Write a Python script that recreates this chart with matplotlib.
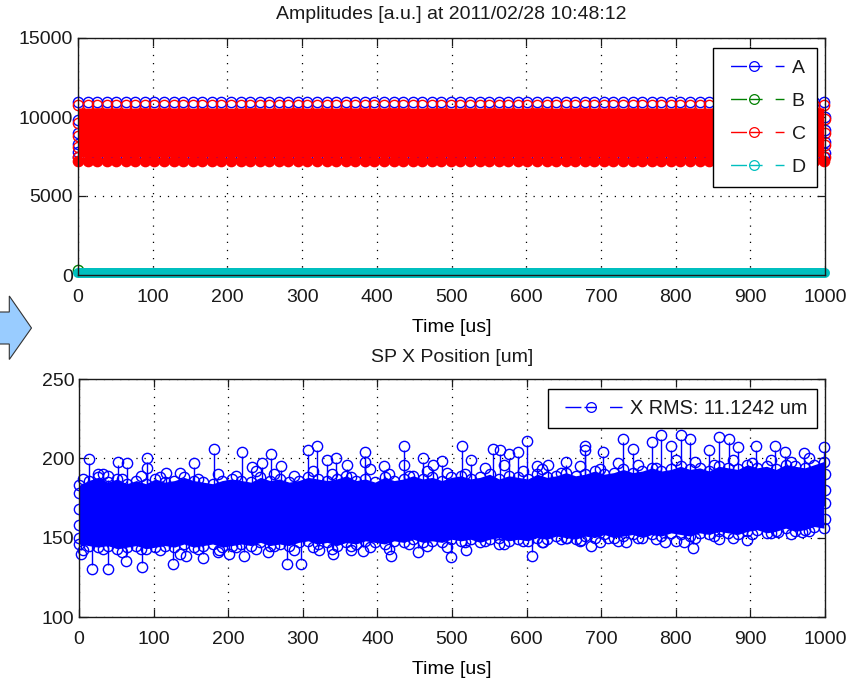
#!/usr/bin/env python3
"""Amplitudes and SP X position against time, two stacked panels."""
import matplotlib
matplotlib.use("Agg")
import matplotlib.pyplot as plt
from matplotlib.lines import Line2D
from matplotlib.patches import Polygon
import numpy as np

# ── Data ──
# samples are grouped per bunch, one bunch every 12.8 us
bunch_time = np.arange(79) * 12.8

a_high = [10960, 10940, 10970, 10950, 10960, 10940, 10950, 10970, 10940, 10960, 10950, 10960, 10940, 10970, 10950, 10960,
          10940, 10950, 10970, 10960, 10940, 10950, 10960, 10970, 10940, 10950, 10960, 10940, 10970, 10950, 10960, 10940,
          10950, 10970, 10960, 10940, 10950, 10960, 10970, 10940, 10950, 10960, 10940, 10970, 10950, 10960, 10940, 10950,
          10970, 10960, 10940, 10950, 10960, 10970, 10940, 10950, 10960, 10940, 10970, 10950, 10960, 10940, 10950, 10970,
          10960, 10940, 10950, 10960, 10970, 10940, 10950, 10960, 10940, 10970, 10950, 10960, 10940, 10950, 10960]
a_low = [7480, 7500, 7470, 7490, 7480, 7500, 7490, 7470, 7500, 7480, 7490, 7480, 7500, 7470, 7490, 7480,
         7500, 7490, 7470, 7480, 7500, 7490, 7480, 7470, 7500, 7490, 7480, 7500, 7470, 7490, 7480, 7500,
         7490, 7470, 7480, 7500, 7490, 7480, 7470, 7500, 7490, 7480, 7500, 7470, 7490, 7480, 7500, 7490,
         7470, 7480, 7500, 7490, 7480, 7470, 7500, 7490, 7480, 7500, 7470, 7490, 7480, 7500, 7490, 7470,
         7480, 7500, 7490, 7480, 7470, 7500, 7490, 7480, 7500, 7470, 7490, 7480, 7500, 7490, 7480]
c_high = [10760, 10740, 10770, 10750, 10760, 10740, 10750, 10770, 10740, 10760, 10750, 10760, 10740, 10770, 10750, 10760,
          10740, 10750, 10770, 10760, 10740, 10750, 10760, 10770, 10740, 10750, 10760, 10740, 10770, 10750, 10760, 10740,
          10750, 10770, 10760, 10740, 10750, 10760, 10770, 10740, 10750, 10760, 10740, 10770, 10750, 10760, 10740, 10750,
          10770, 10760, 10740, 10750, 10760, 10770, 10740, 10750, 10760, 10740, 10770, 10750, 10760, 10740, 10750, 10770,
          10760, 10740, 10750, 10760, 10770, 10740, 10750, 10760, 10740, 10770, 10750, 10760, 10740, 10750, 10760]
c_low = [7220, 7240, 7210, 7230, 7220, 7240, 7230, 7210, 7240, 7220, 7230, 7220, 7240, 7210, 7230, 7220,
         7240, 7230, 7210, 7220, 7240, 7230, 7220, 7210, 7240, 7230, 7220, 7240, 7210, 7230, 7220, 7240,
         7230, 7210, 7220, 7240, 7230, 7220, 7210, 7240, 7230, 7220, 7240, 7210, 7230, 7220, 7240, 7230,
         7210, 7220, 7240, 7230, 7220, 7210, 7240, 7230, 7220, 7240, 7210, 7230, 7220, 7240, 7230, 7210,
         7220, 7240, 7230, 7220, 7210, 7240, 7230, 7220, 7240, 7210, 7230, 7220, 7240, 7230, 7220]
# first and last bunch also show the levels in between
edge_time = [0, 0, 0, 0, 1000, 1000, 1000, 1000]
edge_a = [9800, 9000, 8300, 7800, 10000, 9200, 8400, 7700]
edge_c = [9600, 8800, 8100, 7500, 9900, 9000, 8200, 7500]

b_time = [0]
b_level = [320]
d_time = [0, 1000]
d_level = [127, 127]

x_top = [183, 186, 188, 185, 187, 184, 186, 184, 187, 185, 186, 188, 186, 185, 184, 186,
         187, 186, 185, 188, 186, 187, 185, 186, 188, 187, 186, 187, 189, 186, 187, 185,
         188, 186, 187, 189, 187, 188, 186, 188, 189, 187, 188, 190, 187, 189, 188, 187,
         190, 188, 189, 191, 189, 190, 192, 190, 191, 193, 191, 192, 194, 192, 193, 195,
         193, 194, 192, 195, 194, 193, 196, 194, 195, 193, 196, 195, 194, 196, 198]
x_bot = [146, 145, 144, 145, 143, 144, 145, 143, 144, 145, 144, 146, 144, 145, 146, 144,
         145, 146, 145, 147, 145, 146, 145, 147, 148, 146, 147, 145, 147, 146, 148, 147,
         146, 148, 147, 149, 147, 148, 147, 149, 148, 149, 147, 149, 150, 148, 149, 148,
         150, 149, 151, 150, 149, 151, 150, 152, 150, 151, 152, 150, 152, 151, 153, 152,
         151, 153, 152, 154, 153, 152, 154, 155, 153, 154, 156, 154, 155, 157, 156]
# second row of samples just outside the solid band
outer_time = [6, 32, 58, 83, 109, 135, 160, 186, 211, 237, 262, 288, 314, 339, 365, 390, 416, 442, 467, 493,
              518, 544, 570, 595, 621, 646, 672, 698, 723, 749, 774, 800, 826, 851, 877, 902, 928, 954, 979]
outer_top = [187, 190, 187, 189, 188, 191, 187, 190, 189, 192, 190, 189, 192, 190, 188, 193, 190, 189, 192, 191,
             190, 194, 196, 192, 193, 191, 195, 193, 197, 196, 194, 199, 198, 196, 199, 197, 199, 198, 200]
outer_bot = [142, 143, 141, 143, 142, 140, 143, 141, 144, 143, 145, 142, 144, 143, 145, 144, 143, 146, 145, 144,
             147, 148, 146, 148, 147, 149, 148, 147, 148, 150, 149, 148, 150, 151, 150, 152, 153, 152, 154]
x_edge_time = [0, 0, 0, 0, 1000, 1000, 1000, 1000]
x_edge_pos = [178, 168, 158, 150, 190, 180, 172, 162]

spike_hi_time = [13, 26, 39, 52, 65, 91, 91, 116, 154, 180.5, 219, 231.5, 245, 258, 271, 306.5, 319.5, 333, 345,
                 359, 384, 384, 409, 436, 436, 461.5, 474, 487, 513, 525.5, 555.5, 564, 577, 588, 600.5, 613.5,
                 629, 653, 678, 678, 703, 729, 742, 768, 780.5, 793.5, 806.5, 819.5, 845, 858, 871, 884, 908,
                 933.5, 946.5, 972, 998]
spike_hi_pos = [199.4, 190, 189, 198, 197, 200, 194, 191, 197, 206, 204, 194.5, 197, 203, 195, 205, 208, 199, 200,
                196, 204, 198, 195, 208, 196, 200, 196, 198.5, 208, 199, 206, 205, 203, 204, 211, 195,
                196, 198, 207.5, 205, 204, 212.5, 206, 210.5, 215, 208, 214.5, 212.5, 205, 213.5, 212.5, 207, 208,
                208, 204, 203.5, 207]
spike_lo_time = [2.5, 17, 39, 63, 84, 126, 143.5, 166, 187, 200.5, 221, 254, 279, 297, 322, 340, 364.5, 381, 418,
                 454, 498, 519, 563.5, 607, 622.5, 654, 673.5, 686.5, 709.5, 733, 785.5, 811, 823.5, 858, 895,
                 937.5, 969]
spike_lo_pos = [139.5, 130.5, 130.5, 135.5, 131.7, 133.5, 138.5, 137.5, 142, 140, 138.5, 141, 133.5, 133.5, 142,
                139.5, 142, 141.5, 138.5, 141, 138, 142, 146, 138.5, 147.5, 150, 148.5, 145, 149.7, 147.5, 147.5,
                147.5, 143.3, 149, 148.5, 153.8, 153.8]

amp_ticks_x = [0, 100, 200, 300, 400, 500, 600, 700, 800, 900, 1000]
amp_ticks_y = [0, 5000, 10000, 15000]
x_ticks_y = [100, 150, 200, 250]

# ── Style ──
W, H = 866, 683
BLUE = '#0000FF'
GREEN = '#008000'
RED = '#FF0000'
TEAL = '#00BFBF'
AXIS = '#1A1A1A'
ARROW = '#99CCFF'
MS = 7.4
MEW = 1.0

plt.rcParams.update({
    'font.family': 'Liberation Sans',
    'font.size': 14,
    'text.color': AXIS,
    'axes.edgecolor': AXIS,
    'axes.linewidth': 1.0,
    'xtick.color': AXIS,
    'ytick.color': AXIS,
})


def panel(left, top, right, bottom):
    """Axes placed by reference pixels."""
    ax = fig.add_axes([left / W, 1 - bottom / H, (right - left) / W, (bottom - top) / H])
    ax.set_xlim(0, 1000)
    ax.set_xticks(amp_ticks_x)
    ax.grid(True, color='k', linewidth=0.9, linestyle=(0, (1, 5.5)))
    ax.set_axisbelow(True)
    ax.tick_params(direction='in', top=True, right=True, length=5.5, width=0.9, labelsize=14)
    ax.tick_params(axis='x', pad=10)
    ax.tick_params(axis='y', pad=3.5)
    for spine in ax.spines.values():
        spine.set_zorder(3.5)
    return ax


def handle(color, lead):
    # lead: blank points before the first dash of the legend sample
    pattern = (11.5, 2.2, 9, 9.4, 9, 100)
    return Line2D([], [], color=color, linewidth=1.0, linestyle=(sum(pattern) - lead, pattern), marker='o',
                  markersize=7, markerfacecolor='none', markeredgecolor=color, markeredgewidth=0.9)


fig = plt.figure(figsize=(W / 100, H / 100), dpi=100, facecolor='white')

# ── Amplitudes ──
ax1 = panel(78, 38, 825, 275)
ax1.set_ylim(0, 15000)
ax1.set_yticks(amp_ticks_y)
ring = dict(linestyle='none', marker='o', markersize=MS, markerfacecolor='none',
            markeredgewidth=MEW, clip_on=False, zorder=3)
ax1.plot(bunch_time, a_high, color=BLUE, **ring)
ax1.plot(bunch_time, a_low, color=BLUE, **ring)
ax1.plot(edge_time, edge_a, color=BLUE, **ring)
ax1.plot(b_time, b_level, color=GREEN, **ring)
ax1.fill_between(bunch_time, np.array(c_low) + 260, np.array(c_high) - 180, color=RED, linewidth=0, zorder=3)
ax1.plot(bunch_time, c_high, color=RED, **ring)
ax1.plot(bunch_time, c_low, color=RED, linestyle='none', marker='o', markersize=MS, markerfacecolor=RED,
         markeredgewidth=MEW, clip_on=False, zorder=3)
ax1.plot(edge_time, edge_c, color=RED, **ring)
ax1.plot(d_time, d_level, color=TEAL, linewidth=7.2, solid_capstyle='round', clip_on=False, zorder=3.2)
ax1.set_xlabel('Time [us]', fontsize=14, labelpad=9.5)
ax1.set_title('Amplitudes [a.u.] at 2011/02/28 10:48:12', fontsize=14, pad=14)
leg1 = ax1.legend([handle(c, 4.0) for c in (BLUE, GREEN, RED, TEAL)], ['A', 'B', 'C', 'D'],
                  loc='upper right', bbox_to_anchor=((817 - 78) / 747, (275 - 48) / 237), borderaxespad=0,
                  fontsize=14, handlelength=3.04, handletextpad=0.41, labelspacing=0.79, borderpad=0.58,
                  fancybox=False, framealpha=1, edgecolor='k')
leg1.get_frame().set_linewidth(1.0)
leg1.set_zorder(5)

# ── SP X position ──
ax2 = panel(79, 379, 825, 617)
ax2.set_ylim(100, 250)
ax2.set_yticks(x_ticks_y)
ax2.fill_between(bunch_time, x_bot, x_top, color=BLUE, linewidth=0, zorder=3)
ax2.vlines(spike_hi_time, 170, np.array(spike_hi_pos) - 2.5, color=BLUE, linewidth=1.0, zorder=3)
ax2.vlines(spike_lo_time, np.array(spike_lo_pos) + 2.5, 170, color=BLUE, linewidth=1.0, zorder=3)
for t, v in [(bunch_time, x_top), (bunch_time, x_bot), (outer_time, outer_top), (outer_time, outer_bot),
             (x_edge_time, x_edge_pos), (spike_hi_time, spike_hi_pos), (spike_lo_time, spike_lo_pos)]:
    ax2.plot(t, v, color=BLUE, **ring)
ax2.set_xlabel('Time [us]', fontsize=14, labelpad=9.5)
ax2.set_title('SP X Position [um]', fontsize=14, pad=12)
leg2 = ax2.legend([handle(BLUE, 5.0)], ['X RMS: 11.1242 um'],
                  loc='upper right', bbox_to_anchor=((817 - 79) / 746, (617 - 389) / 238), borderaxespad=0,
                  fontsize=14.3, handlelength=3.3, handletextpad=0.3, borderpad=0.5,
                  fancybox=False, framealpha=1, edgecolor='k')
leg2.get_frame().set_linewidth(1.0)
leg2.set_zorder(5)

# ── Arrow at the left edge ──
arrow_px = [(-2, 312), (9.3, 312), (9.3, 296), (31.5, 328), (9.3, 359.5), (9.3, 344), (-2, 344)]
fig.add_artist(Polygon([(x / W, 1 - y / H) for x, y in arrow_px], closed=True, transform=fig.transFigure,
                       facecolor=ARROW, edgecolor='#333333', linewidth=0.8))

fig.savefig('out.png', dpi=100, facecolor='white')
plt.close()
